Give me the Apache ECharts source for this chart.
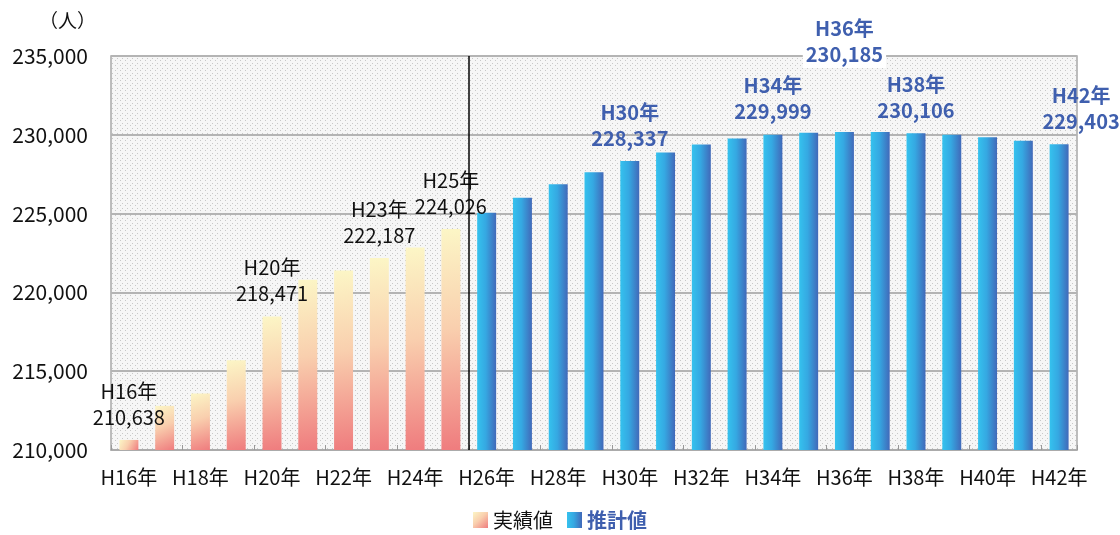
<!DOCTYPE html>
<html>
<head>
<meta charset="utf-8">
<script src="https://cdn.jsdelivr.net/npm/echarts@6/dist/echarts.min.js"></script>
<style>
  html, body { margin: 0; padding: 0; background: #fff; }
  #chart { width: 1120px; height: 535px; }
</style>
</head>
<body>
<div id="chart"></div>
<script>
const categories = [
  "H16年", "H17年", "H18年", "H19年", "H20年", "H21年", "H22年", "H23年", "H24年", "H25年",
  "H26年", "H27年", "H28年", "H29年", "H30年", "H31年", "H32年", "H33年", "H34年", "H35年",
  "H36年", "H37年", "H38年", "H39年", "H40年", "H41年", "H42年"
];
// 実績値 H16〜H25
const actualValues = [210638, 212800, 213590, 215700, 218471, 220800, 221390, 222187, 222850, 224026];
// 推計値 H26〜H42
const projectedValues = [225050, 226000, 226860, 227620, 228337, 228880, 229380, 229760, 229999, 230130,
  230185, 230170, 230106, 230000, 229840, 229630, 229403];
const yTicks = [210000, 215000, 220000, 225000, 230000, 235000];

// 数値ラベルを出す年
const actualLabeled = ["H16年", "H20年", "H23年", "H25年"];
const projectedLabeled = ["H30年", "H34年", "H36年", "H38年", "H42年"];

const fmt = v => v.toLocaleString("en-US");

// 網掛け背景
const pat = document.createElement("canvas");
pat.width = 5;
pat.height = 5;
const pctx = pat.getContext("2d");
pctx.fillStyle = "#f6f6f6";
pctx.fillRect(0, 0, 5, 5);
pctx.fillStyle = "#c8c8c8";
pctx.fillRect(0, 0, 1, 1);
pctx.fillRect(2, 3, 1, 1);

const chart = echarts.init(document.getElementById("chart"));

const labelBase = {
  show: true,
  position: "top",
  distance: 10,
  fontSize: 20,
  lineHeight: 26,
  fontFamily: "Noto Sans CJK JP",
  formatter: p => categories[p.dataIndex] + "\n" + fmt(p.value)
};

const actualData = categories.map((c, i) => {
  if (i >= actualValues.length) return "-";
  const item = { value: actualValues[i] };
  if (actualLabeled.includes(c)) {
    item.label = { ...labelBase, color: "#111" };
  }
  return item;
});

const projectedData = categories.map((c, i) => {
  const j = i - actualValues.length;
  if (j < 0) return "-";
  const item = { value: projectedValues[j] };
  if (projectedLabeled.includes(c)) {
    item.label = { ...labelBase, color: "#3f5fae", fontWeight: "bold" };
    if (c === "H36年") {
      item.label.distance = 64;
      item.label.backgroundColor = "#fff";
      item.label.padding = [0, 3];
    }
    if (c === "H42年") {
      item.label.offset = [22, 0];
    }
  }
  return item;
});

const option = {
  animation: false,
  textStyle: { fontFamily: "Noto Sans CJK JP" },
  title: {
    text: "（人）",
    left: 34,
    top: 6,
    textStyle: { fontSize: 19, fontWeight: "normal", color: "#111" }
  },
  grid: {
    left: 111,
    right: 43,
    top: 56,
    bottom: 85,
    show: true,
    backgroundColor: { image: pat, repeat: "repeat" },
    borderColor: "#a8a8a8",
    borderWidth: 1.5
  },
  legend: {
    bottom: 0,
    left: "center",
    icon: "rect",
    itemWidth: 15,
    itemHeight: 16,
    itemGap: 14,
    textStyle: { fontSize: 20, fontFamily: "Noto Sans CJK JP" },
    data: [
      { name: "実績値", textStyle: { color: "#111" } },
      { name: "推計値", textStyle: { color: "#3f5fae", fontWeight: "bold" } }
    ]
  },
  xAxis: [
    {
      type: "category",
      data: categories,
      axisLine: { lineStyle: { color: "#a8a8a8", width: 1.5 } },
      axisTick: { show: true, inside: true, length: 5, lineStyle: { color: "#999" } },
      axisLabel: { interval: 1, color: "#111", fontSize: 20, margin: 17 }
    },
    {
      type: "value",
      min: 0,
      max: categories.length,
      show: false
    }
  ],
  yAxis: {
    type: "value",
    min: yTicks[0],
    max: yTicks[yTicks.length - 1],
    interval: 5000,
    axisLine: { show: false },
    axisTick: { show: false },
    axisLabel: { color: "#111", fontSize: 21, margin: 23, formatter: v => fmt(v) },
    splitLine: { lineStyle: { color: "#b4b4b4", width: 2 } }
  },
  series: [
    {
      name: "実績値",
      type: "bar",
      barWidth: "53%",
      barGap: "-100%",
      data: actualData,
      itemStyle: {
        color: new echarts.graphic.LinearGradient(0, 0, 1, 1, [
          { offset: 0, color: "#fcf6c6" },
          { offset: 0.45, color: "#f9cfae" },
          { offset: 1, color: "#ef7c7e" }
        ])
      }
    },
    {
      name: "推計値",
      type: "bar",
      barWidth: "53%",
      barGap: "-100%",
      data: projectedData,
      itemStyle: {
        color: new echarts.graphic.LinearGradient(0, 0, 1, 0, [
          { offset: 0, color: "#35c2ee" },
          { offset: 0.45, color: "#35a8e2" },
          { offset: 1, color: "#4169b9" }
        ])
      }
    },
    {
      // 実績と推計の区切り線
      name: "divider",
      type: "line",
      xAxisIndex: 1,
      data: [[0, yTicks[0]]],
      showSymbol: false,
      silent: true,
      lineStyle: { opacity: 0 },
      markLine: {
        silent: true,
        symbol: "none",
        label: { show: false },
        lineStyle: { color: "#000", width: 1.5, type: "solid" },
        data: [{ xAxis: actualValues.length }]
      }
    }
  ]
};

chart.setOption(option);
</script>
</body>
</html>
